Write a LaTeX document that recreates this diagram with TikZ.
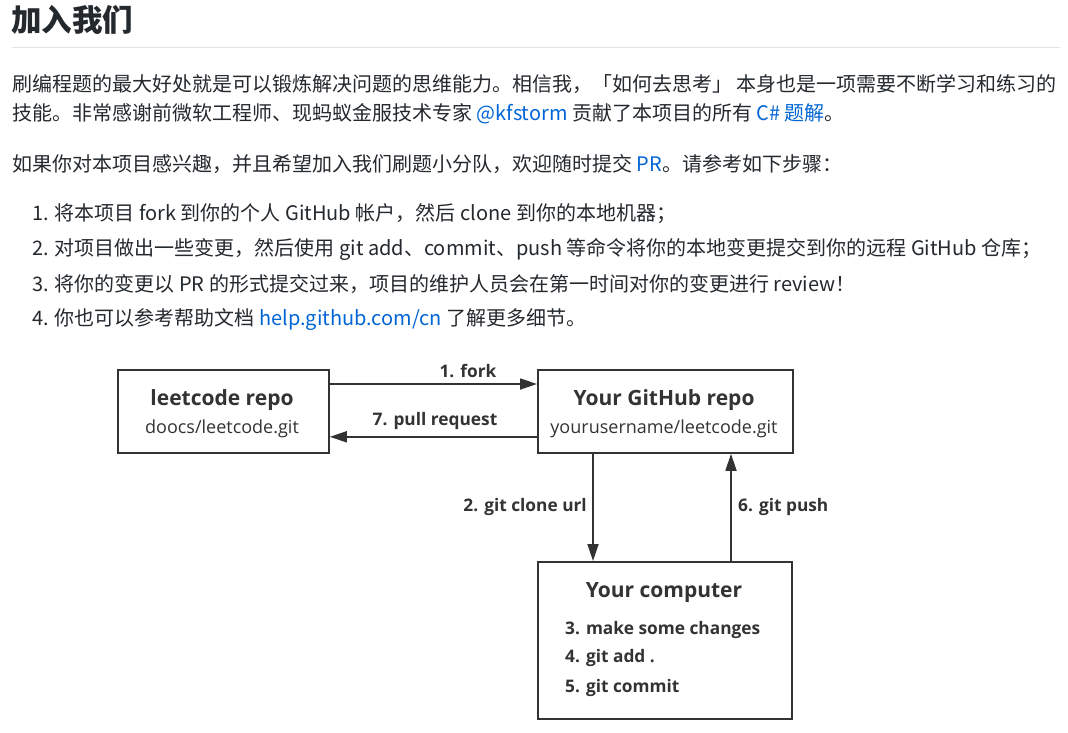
\documentclass[tikz,border=0pt]{standalone}
\usepackage{fontspec}
\setmainfont{Noto Sans CJK SC}
\newfontfamily\dg{Open Sans}
\usetikzlibrary{arrows.meta}
\definecolor{txt}{HTML}{24292E}
\definecolor{lnk}{HTML}{0366D6}
\definecolor{rulec}{HTML}{E1E4E8}
\definecolor{dia}{HTML}{333333}
\tikzset{
  body/.style={anchor=west, inner sep=0pt, text=txt, font=\fontsize{20}{22}\selectfont},
  boxnode/.style={draw=dia, line width=1.8pt, fill=white, anchor=north west, inner sep=0pt},
  arr/.style={draw=dia, line width=1.8pt, -{Triangle[length=17pt,width=11pt]}},
  lbl/.style={anchor=base, inner sep=0pt, text=dia, font=\dg\bfseries\fontsize{17.3}{20}\selectfont},
  ttl/.style={anchor=base, inner sep=0pt, text=dia, font=\dg\bfseries\fontsize{21}{24}\selectfont},
  sub/.style={anchor=base, inner sep=0pt, text=dia, font=\dg\fontsize{18}{21}\selectfont},
  item/.style={anchor=base west, inner sep=0pt, text=dia, font=\dg\bfseries\fontsize{17.3}{20}\selectfont}
}
\begin{document}
\begin{tikzpicture}[x=1pt,y=-1pt]
\useasboundingbox[fill=white] (0,0) rectangle (1068,732);
% heading
\node[anchor=west, inner sep=0pt, text=txt, font=\bfseries\fontsize{30.5}{34}\selectfont] (h) at (11,20) {加入我们};
\coordinate (r1) at (12,47);
\coordinate (r2) at (1060,47);
\draw[rulec, line width=1pt] (r1) -- (r2);
% paragraphs
\node[body] (p1) at (12,84) {刷编程题的最大好处就是可以锻炼解决问题的思维能力。相信我，「如何去思考」 本身也是一项需要不断学习和练习的};
\node[body] (p2) at (12,114) {技能。非常感谢前微软工程师、现蚂蚁金服技术专家 {\color{lnk}@kfstorm} 贡献了本项目的所有 {\color{lnk}C\# 题解}。};
\node[body] (p3) at (12,164) {如果你对本项目感兴趣，并且希望加入我们刷题小分队，欢迎随时提交 {\color{lnk}PR}。请参考如下步骤：};
\node[body] (l1) at (32,214) {1. 将本项目 fork 到你的个人 GitHub 帐户，然后 clone 到你的本地机器；};
\node[body] (l2) at (32,249) {2. 对项目做出一些变更，然后使用 git add、commit、push 等命令将你的本地变更提交到你的远程 GitHub 仓库；};
\node[body] (l3) at (32,284) {3. 将你的变更以 PR 的形式提交过来，项目的维护人员会在第一时间对你的变更进行 review！};
\node[body] (l4) at (32,320) {4. 你也可以参考帮助文档 {\color{lnk}help.github.com/cn} 了解更多细节。};
% diagram boxes
\node[boxnode, minimum width=211pt, minimum height=83pt] (A) at (117,369) {};
\node[boxnode, minimum width=255pt, minimum height=83pt] (B) at (537,369) {};
\node[boxnode, minimum width=254pt, minimum height=157pt] (C) at (537,561) {};
% box texts
\node[ttl] (At) at (222,405) {leetcode repo};
\node[sub] (As) at (222,433) {doocs/leetcode.git};
\node[ttl] (Bt) at (664,405) {Your GitHub repo};
\node[sub] (Bs) at (664,433) {yourusername/leetcode.git};
\node[ttl] (Ct) at (664,597) {Your computer};
\node[item] (c3) at (565,634) {3. make some changes};
\node[item] (c4) at (565,662) {4. git add .};
\node[item] (c5) at (565,692) {5. git commit};
% connectors
\draw[arr] ([yshift=-15pt]A.north east) -- ([yshift=-15pt]B.north west);
\draw[arr] ([yshift=17pt]B.south west) -- ([yshift=17pt]A.south east);
\draw[arr] ([xshift=56pt]B.south west) -- ([xshift=56pt]C.north west);
\draw[arr] ([xshift=194pt]C.north west) -- ([xshift=194pt]B.south west);
% connector labels
\node[lbl] (L1) at (468,377) {1. fork};
\node[lbl] (L7) at (435,425) {7. pull request};
\node[lbl, anchor=base east] (L2) at (587,511) {2. git clone url};
\node[lbl, anchor=base west] (L6) at (738,511) {6. git push};
\end{tikzpicture}
\end{document}
